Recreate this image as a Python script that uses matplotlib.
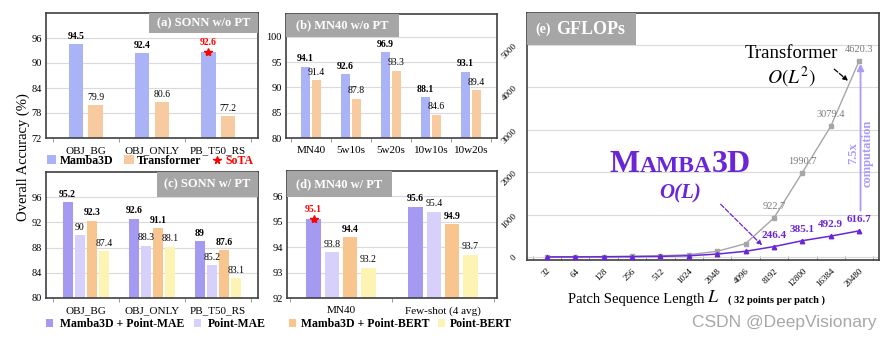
import matplotlib
matplotlib.use("Agg")
import matplotlib.pyplot as plt
import matplotlib.transforms as mtransforms
from matplotlib.patches import Rectangle, Patch
from matplotlib.lines import Line2D
import numpy as np

plt.rcParams["font.family"] = ["Liberation Serif", "DejaVu Serif"]
plt.rcParams["mathtext.fontset"] = "stix"

# ---------------- data ----------------
sonn_cats = ["OBJ_BG", "OBJ_ONLY", "PB_T50_RS"]
sonn_mamba = [94.5, 92.4, 92.6]
sonn_transformer = [79.9, 80.6, 77.2]

mn40_cats = ["MN40", "5w10s", "5w20s", "10w10s", "10w20s"]
mn40_mamba = [94.1, 92.6, 96.9, 88.1, 93.1]
mn40_transformer = [91.4, 87.8, 93.3, 84.6, 89.4]

sonn_pt_mamba_mae = [95.2, 92.6, 89]
sonn_pt_mae = [90, 88.3, 85.2]
sonn_pt_mamba_bert = [92.3, 91.1, 87.6]
sonn_pt_bert = [87.4, 88.1, 83.1]

mn40_pt_cats = ["MN40", "Few-shot (4 avg)"]
mn40_pt_mamba_mae = [95.1, 95.6]
mn40_pt_mae = [93.8, 95.4]
mn40_pt_mamba_bert = [94.4, 94.9]
mn40_pt_bert = [93.2, 93.7]

seq_lengths = ["32", "64", "128", "256", "512", "1024", "2048", "4096",
               "8192", "12800", "16384", "20480"]
gflops_transformer = [3, 6, 11, 20, 30, 55, 135, 315, 922.7, 1990.7, 3079.4, 4620.3]
gflops_mamba = [2, 3, 5, 9, 16, 30, 70, 135, 246.4, 385.1, 492.9, 616.7]

# ---------------- style ----------------
C_MAMBA = "#aab3f6"
C_TRANS = "#f7caa0"
C_MAMBA_MAE = "#a49af2"
C_MAE = "#d6d0fb"
C_MAMBA_BERT = "#f8c58f"
C_BERT = "#fdf4b4"
C_PURPLE = "#6a26d6"
C_LIGHT_PURPLE = "#a99cf7"
C_GRAY_LINE = "#a6a6a6"
C_FRAME = "#404040"
C_GRID = "#dadada"
C_BOX = "#a6a6a6"

W, H = 892, 343
fig = plt.figure(figsize=(W / 100, H / 100), dpi=100)


def add_axes_px(left, top, right, bottom):
    return fig.add_axes([left / W, 1 - bottom / H, (right - left) / W, (bottom - top) / H])


def style_axes(ax, ylim, yticks, ncat):
    ax.set_ylim(*ylim)
    ax.set_yticks(yticks)
    ax.set_xlim(-0.6, ncat - 0.4)
    ax.yaxis.grid(True, color=C_GRID, lw=0.8)
    ax.set_axisbelow(True)
    for s in ax.spines.values():
        s.set_color(C_FRAME)
        s.set_linewidth(1.2)
    ax.tick_params(axis="y", length=0, labelsize=7.5, pad=3)
    ax.set_xticks(range(ncat))
    ax.set_xticks(np.arange(-0.5, ncat, 1.0), minor=True)
    ax.tick_params(axis="x", which="major", length=0, labelsize=8, pad=6)
    ax.tick_params(axis="x", which="minor", length=3, color="#888888", direction="out")


def title_box(ax, text, x0, x1, y0, size=9):
    ax.add_patch(Rectangle((x0, y0), x1 - x0, 1 - y0, transform=ax.transAxes,
                           facecolor=C_BOX, edgecolor="none", zorder=5, clip_on=False))
    ax.text((x0 + x1) / 2, (y0 + 1) / 2, text, transform=ax.transAxes, ha="center",
            va="center", color="white", fontsize=size, weight="bold", zorder=6)


def label_bars(ax, xs, vals, bold, color="black", dy=2.5, fs=7):
    for x, v in zip(xs, vals):
        ax.annotate(f"{v:g}", (x, v), xytext=(0, dy), textcoords="offset points",
                    ha="center", va="bottom", fontsize=fs,
                    weight="bold" if bold else "normal", color=color, zorder=4)


# ---------------- (a) SONN w/o PT ----------------
ax_a = add_axes_px(46, 13, 258, 138)
x = np.arange(len(sonn_cats))
ax_a.bar(x - 0.15, sonn_mamba, 0.22, color=C_MAMBA, zorder=2)
ax_a.bar(x + 0.15, sonn_transformer, 0.22, color=C_TRANS, zorder=2)
style_axes(ax_a, (72, 102), [72, 78, 84, 90, 96], len(sonn_cats))
ax_a.set_xticklabels(sonn_cats)
label_bars(ax_a, x[:2] - 0.15, sonn_mamba[:2], True)
label_bars(ax_a, x[2:] - 0.15, sonn_mamba[2:], True, color="red", dy=3.5)
ax_a.plot(x[2] - 0.15, sonn_mamba[2], marker="*", color="red", ms=6, ls="none", zorder=4)
label_bars(ax_a, x + 0.15, sonn_transformer, False)
title_box(ax_a, "(a) SONN w/o PT", 0.486, 1.0, 0.84)

# ---------------- (b) MN40 w/o PT ----------------
ax_b = add_axes_px(286, 14, 497, 138)
x = np.arange(len(mn40_cats))
ax_b.bar(x - 0.14, mn40_mamba, 0.23, color=C_MAMBA, zorder=2)
ax_b.bar(x + 0.14, mn40_transformer, 0.23, color=C_TRANS, zorder=2)
style_axes(ax_b, (80, 104.5), [80, 85, 90, 95, 100], len(mn40_cats))
ax_b.set_xlim(-0.62, len(mn40_cats) - 0.35)
ax_b.set_xticklabels(mn40_cats)
label_bars(ax_b, x - 0.14, mn40_mamba, True)
label_bars(ax_b, x + 0.14, mn40_transformer, False)
title_box(ax_b, "(b) MN40 w/o PT", 0.0, 0.535, 0.815)

# ---------------- (c) SONN w/ PT ----------------
offs = [-0.275, -0.092, 0.092, 0.275]
bw = 0.15
ax_c = add_axes_px(46, 172, 258, 298)
x = np.arange(len(sonn_cats))
series_c = [(sonn_pt_mamba_mae, C_MAMBA_MAE, True), (sonn_pt_mae, C_MAE, False),
            (sonn_pt_mamba_bert, C_MAMBA_BERT, True), (sonn_pt_bert, C_BERT, False)]
for o, (vals, col, b) in zip(offs, series_c):
    ax_c.bar(x + o, vals, bw, color=col, zorder=2)
    label_bars(ax_c, x + o, vals, b)
style_axes(ax_c, (80, 100), [80, 84, 88, 92, 96], len(sonn_cats))
ax_c.set_xticklabels(sonn_cats)
title_box(ax_c, "(c) SONN w/ PT", 0.524, 1.0, 0.80)

# ---------------- (d) MN40 w/ PT ----------------
ax_d = add_axes_px(287, 171, 497, 298)
x = np.arange(len(mn40_pt_cats))
offs_d = [-0.27, -0.09, 0.09, 0.27]
series_d = [(mn40_pt_mamba_mae, C_MAMBA_MAE, True), (mn40_pt_mae, C_MAE, False),
            (mn40_pt_mamba_bert, C_MAMBA_BERT, True), (mn40_pt_bert, C_BERT, False)]
for i, (o, (vals, col, b)) in enumerate(zip(offs_d, series_d)):
    ax_d.bar(x + o, vals, 0.14, color=col, zorder=2)
    if i == 0:
        label_bars(ax_d, x[:1] + o, vals[:1], True, color="red", dy=3.5)
        ax_d.plot(x[0] + o, vals[0], marker="*", color="red", ms=6, ls="none", zorder=4)
        label_bars(ax_d, x[1:] + o, vals[1:], True)
    else:
        label_bars(ax_d, x + o, vals, b)
style_axes(ax_d, (92, 97), [92, 93, 94, 95, 96], len(mn40_pt_cats))
ax_d.set_xlim(-0.53, 1.53)
ax_d.set_xticklabels(mn40_pt_cats)
title_box(ax_d, "(d) MN40 w/ PT", 0.0, 0.5, 0.795)

# ---------------- (e) GFLOPs ----------------
ax_e = add_axes_px(527, 13, 879, 260)
xe = np.arange(len(seq_lengths))
ax_e.plot(xe, gflops_transformer, color=C_GRAY_LINE, lw=1.0, marker="s", ms=2.8, zorder=3)
ax_e.plot(xe, gflops_mamba, color=C_PURPLE, lw=1.1, marker="^", ms=3.2, zorder=4)
ax_e.set_xlim(-0.7, 11.7)
ax_e.set_ylim(-70, 5750)
ax_e.set_yticks(range(0, 5001, 1000))
ax_e.yaxis.grid(True, color=C_GRID, lw=0.8)
ax_e.set_axisbelow(True)
for s in ax_e.spines.values():
    s.set_color(C_FRAME)
    s.set_linewidth(1.2)
ax_e.set_xticks(xe)
ax_e.set_xticklabels(seq_lengths, rotation=45, ha="right", rotation_mode="anchor")
ax_e.set_xticks(np.arange(-0.5, 12, 1.0), minor=True)
ax_e.tick_params(axis="x", which="major", length=0, labelsize=6.5, pad=5)
ax_e.tick_params(axis="x", which="minor", length=3, color="#888888", direction="in")
ax_e.tick_params(axis="y", length=0, labelsize=6.5, pad=6)
for lab in ax_e.get_yticklabels():
    lab.set_rotation(45)

for i in range(8, 12):
    ax_e.annotate(f"{gflops_transformer[i]:g}", (xe[i], gflops_transformer[i]),
                  xytext=(0, 5), textcoords="offset points", ha="center", va="bottom",
                  fontsize=7.5, color="#7a7a7a")
    ax_e.annotate(f"{gflops_mamba[i]:g}", (xe[i], gflops_mamba[i]),
                  xytext=(0, 5), textcoords="offset points", ha="center", va="bottom",
                  fontsize=8, color=C_PURPLE, weight="bold")

title_box(ax_e, "", 0.0, 0.31, 0.87)
ax_e.text(0.045, 0.933, "(e)", transform=ax_e.transAxes, ha="center", va="center",
          color="white", fontsize=10, weight="bold", zorder=6)
ax_e.text(0.082, 0.935, "GFLOPs", transform=ax_e.transAxes, ha="left", va="center",
          color="white", fontsize=13, weight="bold", zorder=6)

ax_e.text(8.6, 4800, "Transformer", ha="center", va="center", fontsize=13.5)
ax_e.text(8.6, 4230, r"$O(L^2)$", ha="center", va="center", fontsize=14)
ax_e.annotate("", xy=(10.68, 4110), xytext=(10.05, 4470),
              arrowprops=dict(arrowstyle="-|>", color="black", lw=0.9, ls="--",
                              mutation_scale=7))
ax_e.annotate("", xy=(7.65, 230), xytext=(6.05, 1290),
              arrowprops=dict(arrowstyle="-|>", color=C_PURPLE, lw=0.9, ls="--",
                              mutation_scale=7))
ax_e.annotate("", xy=(11.05, 4620), xytext=(11.05, 1030),
              arrowprops=dict(arrowstyle="-|>", color=C_LIGHT_PURPLE, lw=1.3,
                              mutation_scale=10))
ax_e.text(10.78, 2450, "7.5x", rotation=90, ha="center", va="center", fontsize=9,
          weight="bold", color=C_LIGHT_PURPLE)
ax_e.text(11.3, 2450, "computation", rotation=90, ha="center", va="center", fontsize=9,
          weight="bold", color=C_LIGHT_PURPLE)
ax_e.text(4.7, 1500, "O(L)", ha="center", va="center", fontsize=15, weight="bold",
          style="italic", color=C_PURPLE)

# small-caps wordmark drawn piece by piece
renderer = fig.canvas.get_renderer()
pieces = [("M", 23), ("AMBA", 17), ("3D", 23)]
widths = []
for s, size in pieces:
    t = ax_e.text(0, 0, s, fontsize=size, weight="bold")
    widths.append(t.get_window_extent(renderer).width)
    t.remove()
offset = -sum(widths) / 2
for (s, size), w in zip(pieces, widths):
    tr = mtransforms.offset_copy(ax_e.transData, fig=fig, x=offset * 72 / fig.dpi,
                                 y=0, units="points")
    ax_e.text(4.7, 2000, s, transform=tr, ha="left", va="baseline", fontsize=size,
              weight="bold", color=C_PURPLE)
    offset += w

# x-axis title for the GFLOPs panel
fig.text(704 / W, 1 - 299 / H, "Patch Sequence Length", ha="right", va="center",
         fontsize=10.5)
fig.text(707 / W, 1 - 298 / H, "$L$", ha="left", va="center", fontsize=13)
fig.text(728 / W, 1 - 300 / H, "( 32 points per patch )", ha="left", va="center",
         fontsize=7.5, weight="bold")

# ---------------- shared labels and legends ----------------
fig.text(23 / W, 1 - 157 / H, "Overall Accuracy (%)", rotation=90, ha="center",
         va="center", fontsize=10.5)

leg_font = dict(weight="bold", size=8.5)
h1 = [Patch(facecolor=C_MAMBA), Patch(facecolor=C_TRANS),
      Line2D([], [], marker="*", color="red", ls="none", ms=5.5)]
leg1 = fig.legend(h1, ["Mamba3D", "Transformer", "SoTA"], ncol=3, frameon=False,
                  loc="center left", bbox_to_anchor=(47 / W, 1 - 161 / H), prop=leg_font,
                  handlelength=0.8, handleheight=0.8, handletextpad=0.3,
                  columnspacing=0.9, borderaxespad=0, borderpad=0)
leg1.get_texts()[2].set_color("red")

h2 = [Patch(facecolor=C_MAMBA_MAE), Patch(facecolor=C_MAE)]
fig.legend(h2, ["Mamba3D + Point-MAE", "Point-MAE"], ncol=2, frameon=False,
           loc="center left", bbox_to_anchor=(46 / W, 1 - 324 / H), prop=leg_font,
           handlelength=0.6, handleheight=0.6, handletextpad=0.6, columnspacing=0.8,
           borderaxespad=0, borderpad=0)
h3 = [Patch(facecolor=C_MAMBA_BERT), Patch(facecolor=C_BERT)]
fig.legend(h3, ["Mamba3D + Point-BERT", "Point-BERT"], ncol=2, frameon=False,
           loc="center left", bbox_to_anchor=(289 / W, 1 - 324 / H), prop=leg_font,
           handlelength=0.6, handleheight=0.6, handletextpad=0.4, columnspacing=0.7,
           borderaxespad=0, borderpad=0)

fig.text(876 / W, 1 - 323 / H, "CSDN @DeepVisionary", ha="right", va="center",
         fontsize=12.5, color="#a8a8a8", family="Liberation Sans")

fig.savefig("out.png", dpi=100)
